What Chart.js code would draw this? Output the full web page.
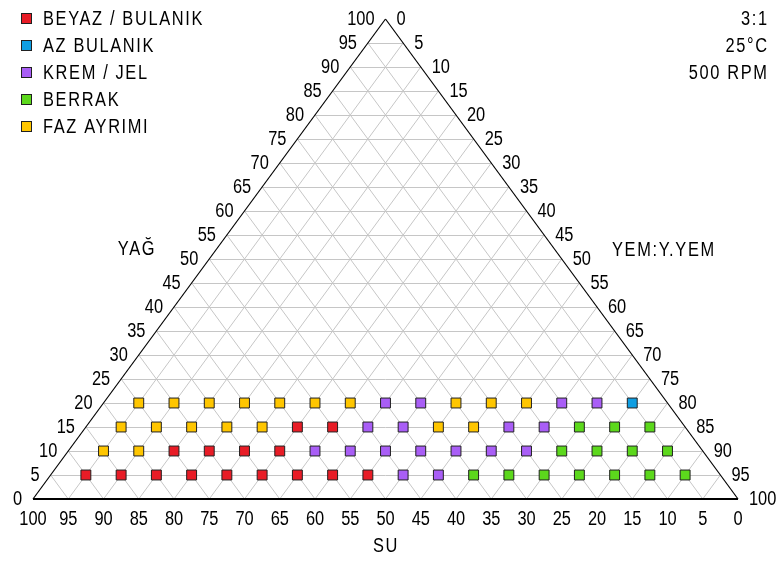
<!DOCTYPE html>
<html>
<head>
<meta charset="utf-8">
<script src="https://cdn.jsdelivr.net/npm/chart.js@4.4.1/dist/chart.umd.min.js"></script>
<style>
  html, body { margin: 0; padding: 0; background: #fff; }
  #wrap { width: 779px; height: 561px; }
</style>
</head>
<body>
<div id="wrap"><canvas id="ternary" width="779" height="561"></canvas></div>
<script>
const phaseNames = ["BEYAZ / BULANIK", "AZ BULANIK", "KREM / JEL", "BERRAK", "FAZ AYRIMI"];
const phaseColors = ["#e81c26", "#0f9ee2", "#a95ef6", "#5cd81c", "#ffc600"];
const conditions = ["3:1", "25°C", "500 RPM"];
const tickValues = [0, 5, 10, 15, 20, 25, 30, 35, 40, 45, 50, 55, 60, 65, 70, 75, 80, 85, 90, 95, 100];

// samples: one row per YAĞ level, YEM:Y.YEM rising left to right, SU is the rest
const yagRows = [5, 10, 15, 20];
const yemSteps = [5, 10, 15, 20, 25, 30, 35, 40, 45, 50, 55, 60, 65, 70, 75, 80, 85, 90];
const B = 0, A = 1, K = 2, R = 3, F = 4;
const rowPhases = [
  [B, B, B, B, B, B, B, B, B, K, K, R, R, R, R, R, R, R],
  [F, F, B, B, B, B, K, K, K, K, K, K, K, R, R, R, R],
  [F, F, F, F, F, B, B, K, K, F, F, K, K, R, R, R],
  [F, F, F, F, F, F, F, K, K, F, F, F, K, K, A]
];

// tall narrow lettering: 20px face squeezed horizontally
const FONT = "20px 'Liberation Sans', Arial, sans-serif";
const SQUEEZE = 0.82;

const datasets = phaseNames.map((name, p) => ({
  label: name,
  data: [],
  backgroundColor: phaseColors[p],
  borderColor: "#202020",
  borderWidth: 1,
  pointStyle: "rect",
  pointRadius: 7,
  pointHoverRadius: 7
}));

rowPhases.forEach((row, i) => {
  const yag = yagRows[i];
  row.forEach((p, j) => {
    const yem = yemSteps[j];
    // ternary -> cartesian: x = YEM + YAĞ/2, y = YAĞ
    datasets[p].data.push({ x: yem + yag / 2, y: yag, su: 100 - yem - yag });
  });
});

function toPx (chart, yem, yag) {
  return [
    chart.scales.x.getPixelForValue(yem + yag / 2),
    chart.scales.y.getPixelForValue(yag)
  ];
}

function line (ctx, a, b) {
  ctx.beginPath();
  ctx.moveTo(a[0], a[1]);
  ctx.lineTo(b[0], b[1]);
  ctx.stroke();
}

function label (ctx, text, x, y, align, spacing) {
  ctx.save();
  ctx.translate(x, y);
  ctx.scale(SQUEEZE, 1);
  ctx.font = FONT;
  ctx.fillStyle = "#000";
  ctx.textAlign = align;
  ctx.textBaseline = "middle";
  ctx.letterSpacing = (spacing || 0) + "px";
  // right-aligned text would otherwise carry the trailing spacing
  ctx.fillText(text, align === "right" ? (spacing || 0) : 0, 0);
  ctx.restore();
}

const ternaryFrame = {
  id: "ternaryFrame",
  beforeDatasetsDraw (chart) {
    const ctx = chart.ctx;
    ctx.save();

    // grid
    ctx.strokeStyle = "#c6c6c6";
    ctx.lineWidth = 1;
    tickValues.forEach((k) => {
      if (k === 0 || k === 100) return;
      const a = toPx(chart, 0, k), b = toPx(chart, 100 - k, k);
      line(ctx, [a[0], Math.round(a[1]) + 0.5], [b[0], Math.round(b[1]) + 0.5]);
      line(ctx, toPx(chart, k, 0), toPx(chart, k, 100 - k));
      line(ctx, toPx(chart, 0, 100 - k), toPx(chart, 100 - k, 0));
    });

    // triangle
    const left = toPx(chart, 0, 0), right = toPx(chart, 100, 0), top = toPx(chart, 0, 100);
    ctx.strokeStyle = "#000";
    ctx.lineWidth = 1.2;
    line(ctx, left, top);
    line(ctx, top, right);
    ctx.lineWidth = 2;
    line(ctx, left, right);
    ctx.restore();

    // tick labels
    tickValues.forEach((k) => {
      let p = toPx(chart, 0, k);
      label(ctx, String(k), p[0] - 11, p[1], "right");
      p = toPx(chart, k, 100 - k);
      label(ctx, String(k), p[0] + 11, p[1], "left");
      p = toPx(chart, 100 - k, 0);
      label(ctx, String(k), p[0], p[1] + 20, "center");
    });

    // axis titles
    label(ctx, "YAĞ", 137, 249, "center", 2);
    label(ctx, "SU", 386, 546, "center", 2);
    label(ctx, "YEM:Y.YEM", 612, 250, "left", 2);
  },
  afterDraw (chart) {
    const ctx = chart.ctx;

    // legend
    chart.data.datasets.forEach((ds, i) => {
      const y = 19 + i * 27;
      ctx.save();
      ctx.fillStyle = ds.backgroundColor;
      ctx.strokeStyle = "#202020";
      ctx.lineWidth = 1;
      ctx.fillRect(21.5, y - 5.5, 10, 10);
      ctx.strokeRect(21.5, y - 5.5, 10, 10);
      ctx.restore();
      label(ctx, ds.label, 43, y, "left", 2);
    });

    // run conditions
    conditions.forEach((t, i) => {
      label(ctx, t, 767, 19 + i * 27, "right", 2);
    });
  }
};

new Chart(document.getElementById("ternary"), {
  type: "scatter",
  data: { datasets },
  options: {
    responsive: false,
    animation: false,
    events: [],
    layout: { padding: { left: 33, right: 41, top: 19, bottom: 62 } },
    scales: {
      x: { type: "linear", min: 0, max: 100, display: false },
      y: { type: "linear", min: 0, max: 100, display: false }
    },
    plugins: {
      legend: { display: false },
      tooltip: { enabled: false }
    },
    elements: { point: { hitRadius: 0 } }
  },
  plugins: [ternaryFrame]
});
</script>
</body>
</html>
